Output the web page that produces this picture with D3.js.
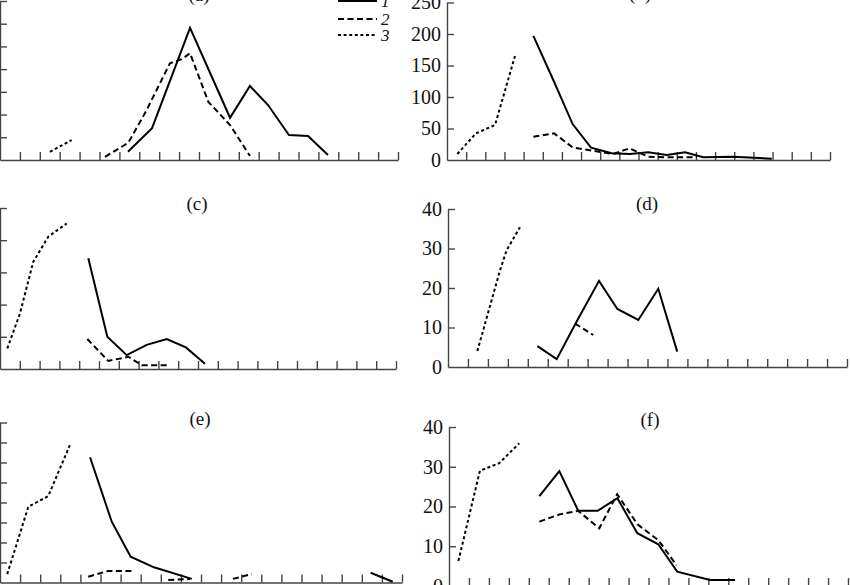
<!DOCTYPE html>
<html>
<head>
<meta charset="utf-8">
<script src="https://cdn.jsdelivr.net/npm/d3@7"></script>
<style>
  body { margin: 0; background: #fff; }
  svg { display: block; }
</style>
</head>
<body>
<div id="chart"></div>
<script>
// Labels
const panelNames = ["(a)", "(b)", "(c)", "(d)", "(e)", "(f)"];
const seriesNames = ["1", "2", "3"];
const xTickValues = d3.range(1, 21);

// y tick values per panel (left column labels fall outside the cropped figure)
const yTicksA = [0, 5, 10, 15, 20, 25, 30, 35];
const yTicksB = [0, 50, 100, 150, 200, 250];
const yTicksC = [0, 10, 20, 30, 40, 50];
const yTicksD = [0, 10, 20, 30, 40];
const yTicksE = [0, 5, 10, 15, 20, 25, 30, 35, 40];
const yTicksF = [0, 10, 20, 30, 40];

// Data: [x, y] pairs, null y = gap
const a1 = [[6.43, 1.8], [7.64, 7.0], [9.55, 29.1], [11.56, 9.3], [12.56, 16.3], [13.47, 12.1], [14.52, 5.5], [15.48, 5.3], [16.48, 1.1]];
const a2 = [[5.28, 0.7], [6.45, 3.8], [7.37, 11], [8.54, 21.3], [9.13, 22.2], [9.55, 23.5], [10.47, 12.8], [11.56, 7.7], [12.56, 0.9]];
const a3 = [[2.51, 1.8], [3.6, 4.4]];

const b1 = [[4.51, 197], [5.55, 127], [6.56, 57], [7.52, 19.5], [8.6, 10.6], [9.56, 9.5], [10.51, 12.2], [11.47, 7.9], [12.43, 12.2], [13.38, 4.3], [14.95, 5.2], [16.96, 2]];
const b2 = [[4.51, 37], [5.59, 42.3], [6.56, 20], [7.61, 14.8], [8.68, 9.5], [9.52, 18.5], [10.51, 5.2], [11.47, 4.2], [12.52, 4.2], [13.04, 4.2]];
const b3 = [[0.54, 9.5], [1.51, 42.3], [2.51, 55.6], [3.55, 165]];

const c1 = [[4.46, 34.4], [5.42, 10.0], [6.4, 4.3], [7.41, 7.5], [8.42, 9.3], [9.39, 6.7], [10.35, 1.6]];
const c2 = [[4.41, 9.3], [5.47, 2.5], [6.48, 3.8], [7.16, 1.2], [8.42, 1.2]];
const c3 = [[0.37, 6.4], [1.01, 17.3], [1.68, 33.3], [2.44, 41.1], [3.37, 45.2]];

const d1 = [[4.48, 5.3], [5.45, 2.0], [6.45, 11.5], [7.57, 21.8], [8.49, 14.7], [9.54, 11.9], [10.54, 19.8], [11.49, 3.9]];
const d2 = [[6.37, 11.0], [7.28, 8.1]];
const d3s = [[1.47, 4.05], [2.61, 24.5], [2.94, 29.6], [3.61, 35.4]];

const e1 = [[4.48, 31.3], [5.56, 15.2], [6.5, 6.45], [7.66, 3.8], [9.54, 0.9], [14, null], [18.44, 2.45], [19.54, 0.2]];
const e2 = [[4.39, 1.45], [5.39, 2.9], [6.55, 2.9], [7.5, null], [8.37, 0.6], [9.45, 0.9], [10.5, null], [11.59, 0.9], [12.52, 2.1]];
const e3 = [[0.36, 2.1], [1.41, 18.95], [2.4, 21.6], [3.48, 34.4]];

const f1 = [[4.53, 22.6], [5.53, 28.9], [6.48, 18.9], [7.45, 18.9], [8.44, 22.1], [9.44, 13.3], [10.49, 10.5], [11.44, 3.6], [13.08, 1.5], [14.34, 1.5]];
const f2 = [[4.53, 16.2], [5.53, 18.0], [6.48, 18.9], [7.53, 14.5], [8.43, 23.1], [9.45, 15.5], [10.5, 11.5], [11.41, 5.2]];
const f3 = [[0.47, 6.3], [1.55, 29.0], [2.52, 30.9], [3.52, 35.9]];

// Panel placement in pixels (figure is cropped, so some axes run off the edge)
const panels = [
  { name: panelNames[0], series: [a1, a2, a3], ticks: yTicksA, x: [0, 398], y: [160, 1], title: [199, 1] },
  { name: panelNames[1], series: [b1, b2, b3], ticks: yTicksB, x: [447, 830], y: [160, 2.5], title: [640, 0] },
  { name: panelNames[2], series: [c1, c2, c3], ticks: yTicksC, x: [0, 396], y: [369, 208], title: [197, 210] },
  { name: panelNames[3], series: [d1, d2, d3s], ticks: yTicksD, x: [448, 847], y: [367, 209], title: [647, 210] },
  { name: panelNames[4], series: [e1, e2, e3], ticks: yTicksE, x: [0, 402], y: [582.5, 422.5], title: [200, 425] },
  { name: panelNames[5], series: [f1, f2, f3], ticks: yTicksF, x: [449, 848], y: [586, 427], title: [650, 426] }
];

const dashes = [null, "6,3.5", "3,2.6"];
const font = "'Liberation Serif', 'Times New Roman', serif";
const axisColor = "#444";

const width = 850, height = 585;

const svg = d3.select("#chart")
  .append("svg")
  .attr("width", width)
  .attr("height", height);

panels.forEach(p => {
  const yMax = p.ticks[p.ticks.length - 1];
  const x = d3.scaleLinear().domain([0, 20]).range(p.x);
  const y = d3.scaleLinear().domain([0, yMax]).range(p.y);

  const g = svg.append("g");

  // x axis, ticks pointing up
  const xAxis = g.append("g")
    .attr("transform", `translate(0,${p.y[0]})`)
    .call(d3.axisBottom(x)
      .tickValues(xTickValues)
      .tickSizeInner(-8)
      .tickSizeOuter(0)
      .tickFormat(""));

  // y axis, ticks pointing right
  const yAxis = g.append("g")
    .attr("transform", `translate(${p.x[0]},0)`)
    .call(d3.axisLeft(y)
      .tickValues(p.ticks)
      .tickSizeInner(-7)
      .tickSizeOuter(0)
      .tickPadding(6));

  [xAxis, yAxis].forEach(ax => {
    ax.selectAll("path, line")
      .attr("stroke", axisColor)
      .attr("stroke-width", 1.4);
  });
  yAxis.selectAll(".tick line").filter(d => d === 0).remove();
  yAxis.selectAll("text")
    .style("font-family", font)
    .style("font-size", "20px")
    .attr("fill", "#111");

  // series lines
  const line = d3.line()
    .defined(d => d[1] !== null)
    .x(d => x(d[0]))
    .y(d => y(d[1]));

  p.series.forEach((s, i) => {
    g.append("path")
      .datum(s)
      .attr("d", line)
      .attr("fill", "none")
      .attr("stroke", "#000")
      .attr("stroke-width", 2)
      .attr("stroke-dasharray", dashes[i]);
  });

  // panel label
  g.append("text")
    .attr("x", p.title[0])
    .attr("y", p.title[1])
    .attr("text-anchor", "middle")
    .style("font-family", font)
    .style("font-size", "19px")
    .attr("fill", "#111")
    .text(p.name);
});

// Legend (top right of panel a)
const legend = svg.append("g");
const legendY = [1, 19, 35];
seriesNames.forEach((name, i) => {
  legend.append("line")
    .attr("x1", 338)
    .attr("x2", 377)
    .attr("y1", legendY[i])
    .attr("y2", legendY[i])
    .attr("stroke", "#000")
    .attr("stroke-width", 2)
    .attr("stroke-dasharray", dashes[i]);
  legend.append("text")
    .attr("x", 381)
    .attr("y", legendY[i] + 6)
    .style("font-family", font)
    .style("font-size", "17px")
    .style("font-style", "italic")
    .attr("fill", "#111")
    .text(name);
});
</script>
</body>
</html>
